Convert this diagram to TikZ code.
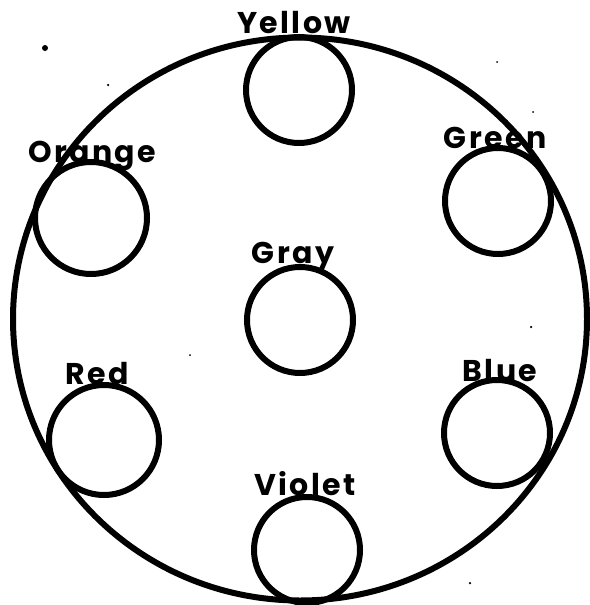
\documentclass[tikz,border=0pt]{standalone}
\usepackage{fontspec}
\setmainfont{Poppins}
\usetikzlibrary{shapes.geometric}
\tikzset{
  ink/.style={line width=6pt, draw=black},
  swatch/.style={ink, circle, minimum size=106pt, inner sep=0pt},
  lab/.style={font=\fontsize{30}{32}\selectfont\bfseries\addfontfeatures{LetterSpace=8}, inner sep=0pt, anchor=base},
  speck/.style={fill=black, draw=none, circle, inner sep=0pt}
}
\begin{document}
\begin{tikzpicture}[x=1pt, y=-1pt]
\useasboundingbox (0,0) rectangle (589,605);
\fill[white] (0,0) rectangle (589,605);
% outer wheel
\node[ink, ellipse, minimum width=574pt, minimum height=563pt, inner sep=0pt] (wheel) at (300,319) {};
% swatches
\node[swatch] (yellow) at (299,90) {};
\node[swatch] (green)  at (498,201) {};
\node[swatch, minimum size=112pt] (orange) at (91,218) {};
\node[swatch] (gray)   at (300,320) {};
\node[swatch, minimum size=110pt] (red) at (104,440) {};
\node[swatch] (blue)   at (497,433) {};
\node[swatch, minimum size=106pt] (violet) at (307,550) {};
% labels
\node[lab] (tyellow) at (294,33) {Yellow};
\node[lab] (torange) at (92,162) {Orange};
\node[lab] (tgreen)  at (495,148) {Green};
\node[lab] (tgray)   at (293,263) {Gray};
\node[lab] (tred)    at (97,384) {Red};
\node[lab] (tblue)   at (500,381) {Blue};
\node[lab] (tviolet) at (305,495) {Violet};
% specks
\node[speck, minimum size=6pt] (s1) at (45,48) {};
\node[speck, minimum size=2.5pt] (s2) at (108,85) {};
\node[speck, minimum size=2pt] (s3) at (497,62) {};
\node[speck, minimum size=2pt] (s4) at (190,355) {};
\node[speck, minimum size=2.5pt] (s5) at (531,327) {};
\node[speck, minimum size=2.5pt] (s6) at (470,583) {};
\node[speck, minimum size=2pt] (s7) at (533,112) {};
\end{tikzpicture}
\end{document}
